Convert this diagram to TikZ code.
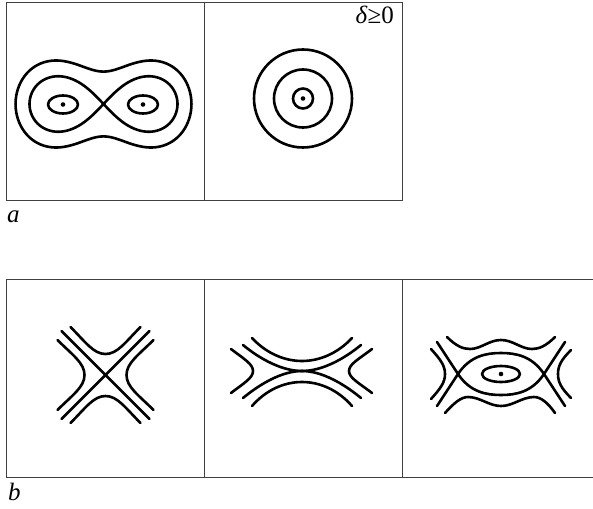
\documentclass[tikz,border=0pt]{standalone}
\usepackage{fontspec}
\setmainfont{Liberation Serif}
\begin{document}
\begin{tikzpicture}[x=1pt,y=-1pt,
  frame/.style={line width=1pt,draw=black!75},
  curve/.style={line width=2.6pt,line cap=round,line join=round},
  dotmark/.style={fill=black},
  lbl/.style={inner sep=0pt,font=\fontsize{25}{29}\selectfont}]
\useasboundingbox (0,0) rectangle (593,508);
% ---------- frames ----------
\draw[frame] (6,3) rectangle (402,200.5);
\draw[frame] (204,3) -- (204,200.5);
\draw[frame] (593,279) -- (6,279) -- (6,477) -- (593,477);
\draw[frame] (204,279) -- (204,477);
\draw[frame] (402,279) -- (402,477);
% ---------- labels ----------
\node[lbl,anchor=base west] (labela) at (7,222) {\textit{a}};
\node[lbl,anchor=base west] (labelb) at (8,500) {\textit{b}};
\node[lbl,anchor=base east] (labeld) at (394,23.5) {\textit{δ}≥0};
% ---------- panel a1: figure eight ----------
\begin{scope}[shift={(103.5,104)}]
  \draw[curve] plot[domain=0:360,samples=181,smooth,variable=\t]
    ({59.3*sqrt(cos(2*\t)+sqrt(cos(2*\t)*cos(2*\t)+0.44))*cos(\t)},
     {72.5*sqrt(cos(2*\t)+sqrt(cos(2*\t)*cos(2*\t)+0.44))*sin(\t)});
  \draw[curve] plot[domain=0:360,samples=181,smooth,variable=\t]
    ({74*cos(\t)/(1+sin(\t)*sin(\t))},
     {78.5*sin(\t)*cos(\t)/(1+sin(\t)*sin(\t))});
  \draw[curve] (-40.5,0.5) ellipse [x radius=15, y radius=9];
  \draw[curve] (39.5,0.5) ellipse [x radius=15, y radius=9];
  \fill[dotmark] (-40.5,0.5) circle (2.3);
  \fill[dotmark] (39.5,0.5) circle (2.3);
\end{scope}
% ---------- panel a2: circles ----------
\begin{scope}[shift={(303,98.5)}]
  \draw[curve] (0,0) circle (49);
  \draw[curve] (0,0) circle (29);
  \draw[curve] (0,0) circle (10);
  \fill[dotmark] (0,0) circle (2.3);
\end{scope}
% ---------- panel b1: saddle ----------
\begin{scope}[shift={(105.5,375)}]
  \draw[curve] (-44,-44) -- (44,44);
  \draw[curve] (44,-44) -- (-44,44);
  \foreach \r in {0,90,180,270}{
    \draw[curve,rotate=\r] (-35,-48) .. controls (-20,-33) and (-12,-21) .. (0,-21)
      .. controls (12,-21) and (20,-33) .. (35,-48);
  }
\end{scope}
% ---------- panel b2: degenerate ----------
\begin{scope}[shift={(302,371)}]
  \draw[curve] (-50,-33) .. controls (-36,-18) and (-18,-10) .. (0,-10)
    .. controls (18,-10) and (36,-18) .. (50,-33);
  \draw[curve] (-59,-26) .. controls (-42,-12) and (-20,0) .. (0,0)
    .. controls (20,0) and (42,-12) .. (59,-26);
  \draw[curve] (-59,27) .. controls (-42,13) and (-20,0) .. (0,0)
    .. controls (20,0) and (42,13) .. (59,27);
  \draw[curve] (-50,35) .. controls (-36,19) and (-18,11) .. (0,11)
    .. controls (18,11) and (36,19) .. (50,35);
  \draw[curve] (-71,-22) .. controls (-58,-12) and (-49,-7) .. (-49,0)
    .. controls (-49,7) and (-58,12) .. (-71,22);
  \draw[curve] (70,-22) .. controls (57,-12) and (47,-7) .. (47,0)
    .. controls (47,7) and (57,12) .. (70,22);
\end{scope}
% ---------- panel b3: eye ----------
\begin{scope}[shift={(501,374)}]
  \draw[curve] (0,0) ellipse [x radius=19, y radius=8];
  \fill[dotmark] (0,0) circle (2.3);
  \draw[curve] (-64,-32) -- (-43,0) .. controls (-31,18) and (-15,21) .. (0,21)
    .. controls (15,21) and (31,18) .. (43,0) -- (64,-32);
  \draw[curve] (-64,32) -- (-43,0) .. controls (-31,-18) and (-15,-21) .. (0,-21)
    .. controls (15,-21) and (31,-18) .. (43,0) -- (64,32);
  \draw[curve] (-54,-37) .. controls (-45,-28) and (-38,-25) .. (-31,-25)
    .. controls (-20,-25) and (-12,-34) .. (0,-34)
    .. controls (12,-34) and (20,-25) .. (31,-25)
    .. controls (38,-25) and (45,-28) .. (54,-37);
  \draw[curve] (-56,39) .. controls (-47,29) and (-40,23) .. (-33,23)
    .. controls (-21,23) and (-12,32) .. (0,32)
    .. controls (12,32) and (21,23) .. (33,23)
    .. controls (40,23) and (47,29) .. (54,39);
  \draw[curve] (-70,-25) .. controls (-60,-14) and (-56,-8) .. (-56,0)
    .. controls (-56,8) and (-60,14) .. (-70,25);
  \draw[curve] (70,-24) .. controls (60,-14) and (57,-8) .. (57,0)
    .. controls (57,8) and (60,14) .. (70,24);
\end{scope}
\end{tikzpicture}
\end{document}
